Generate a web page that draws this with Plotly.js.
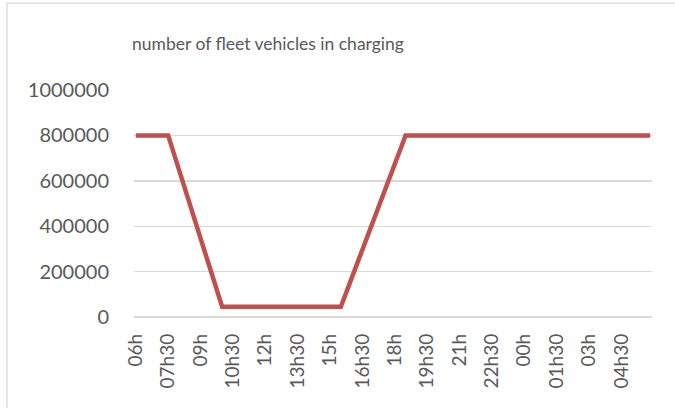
<!DOCTYPE html>
<html>
<head>
<meta charset="utf-8">
<script src="https://cdn.plot.ly/plotly-3.0.1.min.js"></script>
<style>html,body{margin:0;padding:0;background:#fff;}#chart{width:675px;height:408px;}</style>
</head>
<body>
<div id="chart"></div>
<script>
// hours after 06h00 (data every 10 minutes, breakpoints only)
const hours = [0, 1.5, 4, 9.5, 12.5, 23.8333];
const vehicles = [800000, 800000, 45000, 45000, 800000, 800000];
const tickHours = [0, 1.5, 3, 4.5, 6, 7.5, 9, 10.5, 12, 13.5, 15, 16.5, 18, 19.5, 21, 22.5];
const tickLabels = ['06h','07h30','09h','10h30','12h','13h30','15h','16h30','18h','19h30','21h','22h30','00h','01h30','03h','04h30'];
const yTicks = [0, 200000, 400000, 600000, 800000, 1000000];

const font = 'Lato, "Open Sans", sans-serif';
const trace = {
  x: hours, y: vehicles, type: 'scatter', mode: 'lines',
  line: {color: '#c0504d', width: 4.5},
  hoverinfo: 'skip'
};
const layout = {
  width: 675, height: 408,
  margin: {l: 134, r: 23, t: 90, b: 91},
  paper_bgcolor: '#ffffff', plot_bgcolor: '#ffffff',
  showlegend: false,
  title: {text: 'number of fleet vehicles in charging', x: 0.397, xanchor: 'center', y: 0.893, yanchor: 'middle',
          font: {family: font, size: 17.5, color: '#595959'}},
  xaxis: {
    range: [-1/12, 24 - 1/12], tickmode: 'array', tickvals: tickHours, ticktext: tickLabels,
    tickangle: -90, showgrid: false, zeroline: false, showline: false, ticks: '',
    ticklabelstandoff: 12,
    tickfont: {family: font, size: 19, color: '#595959'}, fixedrange: true
  },
  yaxis: {
    range: [0, 1000000], tickmode: 'array', tickvals: yTicks, ticktext: yTicks.map(String),
    showgrid: true, gridcolor: '#d9d9d9', gridwidth: 1.4, zeroline: true, zerolinecolor: '#d9d9d9', zerolinewidth: 1.4,
    showline: false, ticks: '',
    ticklabelstandoff: 24,
    tickfont: {family: font, size: 20, color: '#595959'}, fixedrange: true
  },
  shapes: [{type: 'rect', xref: 'paper', yref: 'paper', x0: -0.2452, x1: 1.06, y0: -0.45, y1: 1.383,
            line: {color: '#d9d9d9', width: 1.3}, fillcolor: 'rgba(0,0,0,0)', layer: 'below'}]
};
Plotly.newPlot('chart', [trace], layout, {displayModeBar: false, staticPlot: true});
</script>
</body>
</html>
